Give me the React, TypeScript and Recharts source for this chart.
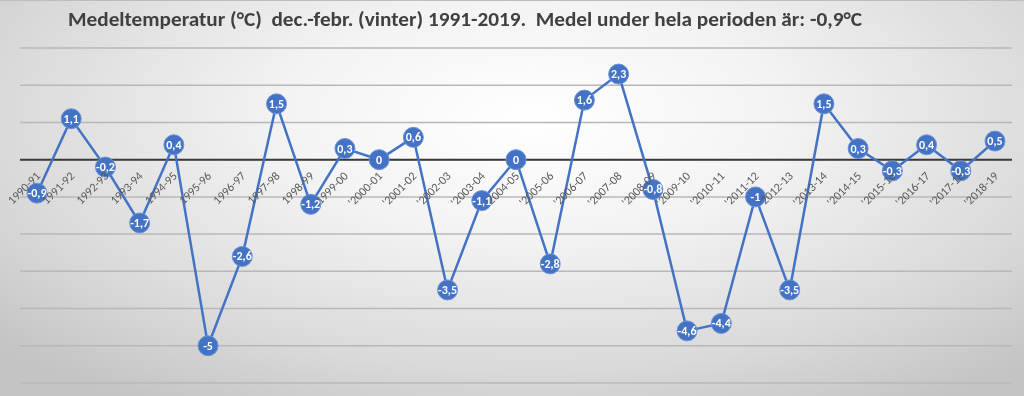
import { CartesianGrid, LabelList, Line, LineChart, ReferenceLine, XAxis, YAxis } from "recharts";

const seasons = [
  "1990-91", "1991-92", "1992-93", "1993-94", "1994-95", "1995-96", "1996-97",
  "1997-98", "1998-99", "1999-00", "'2000-01", "'2001-02", "'2002-03", "'2003-04",
  "'2004-05", "'2005-06", "'2006-07", "'2007-08", "'2008-09", "'2009-10", "'2010-11",
  "'2011-12", "'2012-13", "'2013-14", "'2014-15", "'2015-16", "'2016-17", "'2017-18",
  "'2018-19",
];

const temps = [
  -0.9, 1.1, -0.2, -1.7, 0.4, -5, -2.6, 1.5, -1.2, 0.3, 0, 0.6, -3.5, -1.1, 0,
  -2.8, 1.6, 2.3, -0.8, -4.6, -4.4, -1, -3.5, 1.5, 0.3, -0.3, 0.4, -0.3, 0.5,
];

const yTicks = [-6, -5, -4, -3, -2, -1, 0, 1, 2, 3];

const title =
  "Medeltemperatur (°C)  dec.-febr. (vinter) 1991-2019.  Medel under hela perioden är: -0,9°C";

const data = seasons.map((season, i) => ({ season, temp: temps[i] }));

const BLUE = "#4472C4";
const FONT = "Carlito, Calibri, 'Liberation Sans', Arial, sans-serif";

const fmt = (v: number) => String(v).replace(".", ",");

function SeasonLabel(props: any) {
  const { x, y, value } = props;
  const ax = x + 4;
  const ay = y + 17;
  return (
    <text
      x={ax}
      y={ay}
      transform={`rotate(-45 ${ax} ${ay})`}
      textAnchor="end"
      fontSize={12}
      fill="#595959"
      fontFamily={FONT}
    >
      {value}
    </text>
  );
}

function ValueLabel(props: any) {
  const { x, y, value } = props;
  return (
    <text
      x={x}
      y={y + 4}
      textAnchor="middle"
      fontSize={12}
      fontWeight="bold"
      fill="#ffffff"
      fontFamily={FONT}
    >
      {fmt(value)}
    </text>
  );
}

export default function App() {
  return (
    <div
      style={{
        position: "fixed",
        left: 0,
        top: 0,
        width: 1024,
        height: 396,
        background:
          "radial-gradient(ellipse 70% 85% at 52% 30%, #ffffff 0%, #f3f3f3 35%, #d9d9d9 75%, #c4c4c4 100%)",
        borderTop: "1px solid #bdbdbd",
        boxSizing: "border-box",
        overflow: "hidden",
      }}
    >
      <svg width={1024} height={40} style={{ position: "absolute", left: 0, top: 0 }}>
        <text
          x={68}
          y={25}
          fontSize={21}
          fontWeight="bold"
          fill="#404040"
          fontFamily={FONT}
          textLength={794}
          lengthAdjust="spacingAndGlyphs"
          style={{ whiteSpace: "pre" }}
        >
          {title}
        </text>
      </svg>
      <div style={{ position: "absolute", left: 0, top: -1 }}>
        <LineChart
          width={1024}
          height={396}
          data={data}
          margin={{ top: 48, right: 12, bottom: 13, left: 20 }}
        >
          <CartesianGrid vertical={false} stroke="#b8b8b8" strokeWidth={1.5} />
          <XAxis dataKey="season" hide padding={{ left: 17, right: 17 }} />
          <YAxis hide domain={[-6, 3]} ticks={yTicks} />
          <ReferenceLine y={0} stroke="#3a3a3a" strokeWidth={2} />
          <Line
            dataKey={() => 0}
            stroke="none"
            dot={false}
            activeDot={false}
            isAnimationActive={false}
          >
            <LabelList dataKey="season" content={SeasonLabel} />
          </Line>
          <Line
            dataKey="temp"
            stroke={BLUE}
            strokeWidth={2.5}
            dot={{ r: 10, fill: BLUE, stroke: "#6b93d6", strokeWidth: 1 }}
            activeDot={false}
            isAnimationActive={false}
          >
            <LabelList dataKey="temp" content={ValueLabel} />
          </Line>
        </LineChart>
      </div>
    </div>
  );
}
